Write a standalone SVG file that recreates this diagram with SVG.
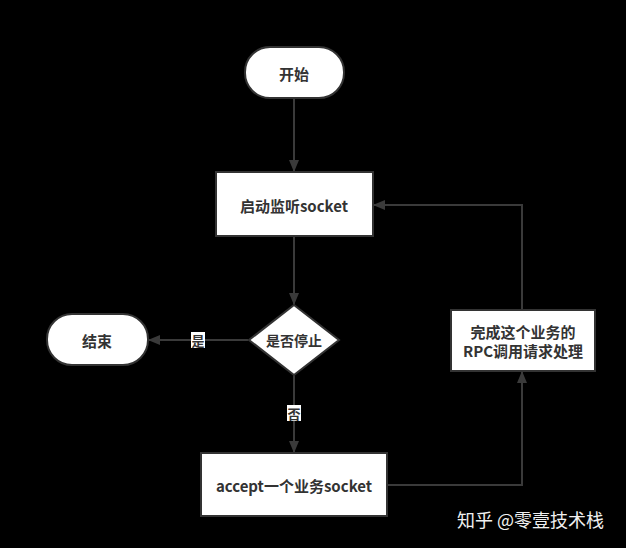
<svg xmlns="http://www.w3.org/2000/svg" width="626" height="548" viewBox="0 0 626 548">
<defs>
<style>
.node{fill:#ffffff;stroke:#333333;stroke-width:2}
.t{font-family:"Noto Sans CJK SC","Liberation Sans",sans-serif;font-size:15px;font-weight:bold;fill:#333333;text-anchor:middle;dominant-baseline:central}
.edge{fill:none;stroke:#3a3a3a;stroke-width:2}
.lbl{fill:#ffffff}
.lt{font-family:"Noto Sans CJK SC","Liberation Sans",sans-serif;font-size:13px;font-weight:bold;fill:#333333;text-anchor:middle;dominant-baseline:central}
.wm{font-family:"Noto Sans CJK SC","Liberation Sans",sans-serif;font-size:18px;fill:#f0f0f0}
</style>
<marker id="arr" markerWidth="12" markerHeight="12" viewBox="0 0 12 12" refX="11" refY="6" orient="auto" markerUnits="userSpaceOnUse">
<path d="M0,1 L12,6 L0,11 Z" fill="#3a3a3a"/>
</marker>
</defs>
<rect width="626" height="548" fill="#000000"/>
<g id="connectors">
<path class="edge" d="M294,98 L294,171" marker-end="url(#arr)"/>
<path class="edge" d="M294,236 L294,304" marker-end="url(#arr)"/>
<path class="edge" d="M248,340 L149,340" marker-end="url(#arr)"/>
<path class="edge" d="M294,375 L294,452" marker-end="url(#arr)"/>
<path class="edge" d="M387,485 L522,485 L522,372" marker-end="url(#arr)"/>
<path class="edge" d="M522,310 L522,205 L374,205" marker-end="url(#arr)"/>
<rect class="lbl" x="191" y="332" width="14" height="16"/>
<text class="lt" x="198" y="340">是</text>
<rect class="lbl" x="287" y="405" width="14" height="16"/>
<text class="lt" x="294" y="413">否</text>
</g>
<g id="start">
<rect class="node" x="245" y="47" width="99" height="51" rx="25" ry="25"/>
<text class="t" x="294" y="73">开始</text>
</g>
<g id="listen">
<rect class="node" x="216" y="172" width="157" height="64"/>
<text class="t" x="294" y="205">启动监听socket</text>
</g>
<g id="decision">
<path class="node" d="M294,305 L339,340 L294,375 L249,340 Z"/>
<text class="t" x="294" y="340" style="font-size:14px">是否停止</text>
</g>
<g id="end">
<rect class="node" x="47" y="314" width="101" height="51" rx="25" ry="25"/>
<text class="t" x="97" y="340">结束</text>
</g>
<g id="accept">
<rect class="node" x="201" y="453" width="186" height="63"/>
<text class="t" x="294" y="485">accept一个业务socket</text>
</g>
<g id="handle">
<rect class="node" x="451" y="310" width="144" height="61"/>
<text class="t" x="523" y="331">完成这个业务的</text>
<text class="t" x="523" y="350">RPC调用请求处理</text>
</g>
<text class="wm" x="457" y="527">知乎 @零壹技术栈</text>
</svg>
